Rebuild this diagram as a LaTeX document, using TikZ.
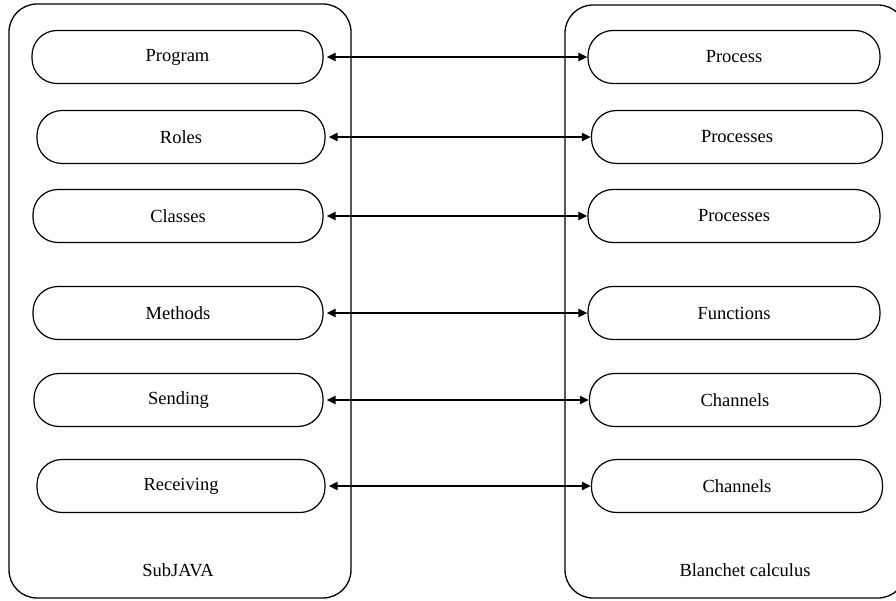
\documentclass[tikz,border=0pt]{standalone}
\usepackage{fontspec}
\setmainfont{Liberation Serif}
\usetikzlibrary{arrows.meta}
\begin{document}
\begin{tikzpicture}[x=1pt,y=-1pt,
  frame/.style={draw, line width=1.3pt, rounded corners=28pt},
  item/.style={draw, line width=1.2pt, rounded corners=25pt,
    minimum width=290pt, minimum height=53pt, inner sep=0pt,
    font=\fontsize{18.5}{22}\selectfont},
  caption/.style={font=\fontsize{18.5}{22}\selectfont, inner sep=0pt},
  link/.style={line width=2pt, {Triangle[length=9pt,width=8pt]}-{Triangle[length=9pt,width=8pt]},
    shorten <=3pt},
  thick link/.style={link, line width=2.8pt}]
\useasboundingbox (0,0) rectangle (896,601);
\clip (0,0) rectangle (896,601);

% the two language containers
\node[frame, minimum width=342pt, minimum height=594pt] (java) at (180,301) {};
\node[frame, minimum width=341pt, minimum height=593pt] (calc) at (735.5,301.5) {};
\node[caption] (javalbl) at (178,570) {SubJAVA};
\node[caption] (calclbl) at (745,570) {Blanchet calculus};

% SubJAVA constructs
\node[item, minimum width=291pt] (program) at (177.5,57) {Program};
\node[item, minimum width=288pt] (roles) at (181,137) {Roles};
\node[item, minimum width=290pt] (classes) at (178,216) {Classes};
\node[item, minimum width=290pt] (methods) at (178,313) {Methods};
\node[item, minimum width=289pt] (sending) at (178.5,400) {Sending};
\node[item, minimum width=288pt] (receiving) at (181,486) {Receiving};

% calculus counterparts
\node[item, minimum width=292pt] (process) at (734,57) {Process};
\node[item, minimum width=291pt] (processes1) at (737,137) {Processes};
\node[item, minimum width=292pt] (processes2) at (734,216) {Processes};
\node[item, minimum width=292pt] (functions) at (734,313) {Functions};
\node[item, minimum width=291pt] (channels1) at (735,400) {Channels};
\node[item, minimum width=291pt] (channels2) at (737,486) {Channels};

% correspondences
\draw[link] (program.east) -- (process.west);
\draw[link] (roles.east) -- (processes1.west);
\draw[thick link] (classes.east) -- (processes2.west);
\draw[link] (methods.east) -- (functions.west);
\draw[link] (sending.east) -- (channels1.west);
\draw[link] (receiving.east) -- (channels2.west);
\end{tikzpicture}
\end{document}
